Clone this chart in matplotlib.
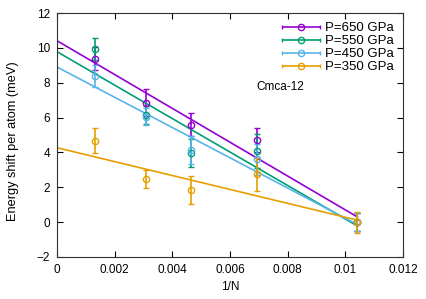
import numpy as np
import matplotlib
matplotlib.use("Agg")
import matplotlib.pyplot as plt
from matplotlib.legend_handler import HandlerErrorbar

# 1/N for supercells of 768, 324, 216, 144, 96 atoms
inv_n = [1 / 768, 1 / 324, 1 / 216, 1 / 144, 1 / 96]

labels = ["P=650 GPa", "P=550 GPa", "P=450 GPa", "P=350 GPa"]
colors = ["#9400d3", "#009e73", "#56b4e9", "#e69f00"]

shift_650 = [9.38, 6.85, 5.59, 4.71, 0.0]
err_650 = [0.65, 0.77, 0.65, 0.70, 0.5]
shift_550 = [9.93, 6.15, 3.95, 4.08, 0.0]
err_550 = [0.65, 0.50, 0.80, 1.00, 0.5]
shift_450 = [8.38, 6.05, 4.14, 3.60, 0.0]
err_450 = [0.65, 0.50, 0.80, 0.90, 0.5]
shift_350 = [4.68, 2.47, 1.84, 2.74, 0.0]
err_350 = [0.72, 0.50, 0.80, 0.95, 0.6]

# linear fits: value at 1/N=0 and slope
fit_intercept = [10.41, 9.78, 8.90, 4.27]
fit_slope = [-971, -960, -868, -399]

shifts = [shift_650, shift_550, shift_450, shift_350]
errs = [err_650, err_550, err_450, err_350]

plt.rcParams["font.family"] = ["Liberation Sans", "DejaVu Sans"]
plt.rcParams["font.size"] = 8.5

fig = plt.figure(figsize=(4.27, 2.99), dpi=100)
ax = fig.add_axes([0.1335, 0.1405, 0.8105, 0.816])

x_fit = np.array([0.0, inv_n[-1]])
handles = []
for y, e, a, b, c, lab in zip(shifts, errs, fit_intercept, fit_slope, colors, labels):
    ax.errorbar(inv_n, y, yerr=e, fmt="o", color=c, mfc="none", ms=4.5, mew=1.0,
                elinewidth=1.2, capsize=2, capthick=1.2)
    ax.plot(x_fit, a + b * x_fit, color=c, lw=1.2)
    # dummy container only for the gnuplot-like legend sample
    h = ax.errorbar([np.nan], [np.nan], xerr=[np.nan], fmt="o", color=c, mfc="none",
                    ms=4.5, mew=1.0, elinewidth=1.2, capsize=1.5, capthick=1.0)
    handles.append(h)

ax.text(0.0069, 7.6, "Cmca-12", fontsize=8.5)

ax.set_xlim(0, 0.012)
ax.set_ylim(-2, 12)
ax.set_xticks(np.arange(0, 0.0121, 0.002))
ax.set_xticklabels(["0", "0.002", "0.004", "0.006", "0.008", "0.01", "0.012"])
ax.set_yticks(range(-2, 13, 2))
ax.tick_params(direction="in", top=True, right=True, length=4, width=0.8, pad=5)
for s in ax.spines.values():
    s.set_color("#333333")
ax.set_xlabel("1/N", labelpad=4)
ax.set_ylabel("Energy shift per atom (meV)", fontsize=9.2)
ax.yaxis.set_label_coords(-0.11, 0.475)

ax.legend(handles=handles, labels=labels, loc="upper right", frameon=False,
          handlelength=2.9, numpoints=1, borderaxespad=0.5, labelspacing=0.05,
          handletextpad=0.4, fontsize=9.5, borderpad=0.2,
          handler_map={type(handles[0]): HandlerErrorbar(xerr_size=1.45)})

fig.savefig("out.png", dpi=100)
